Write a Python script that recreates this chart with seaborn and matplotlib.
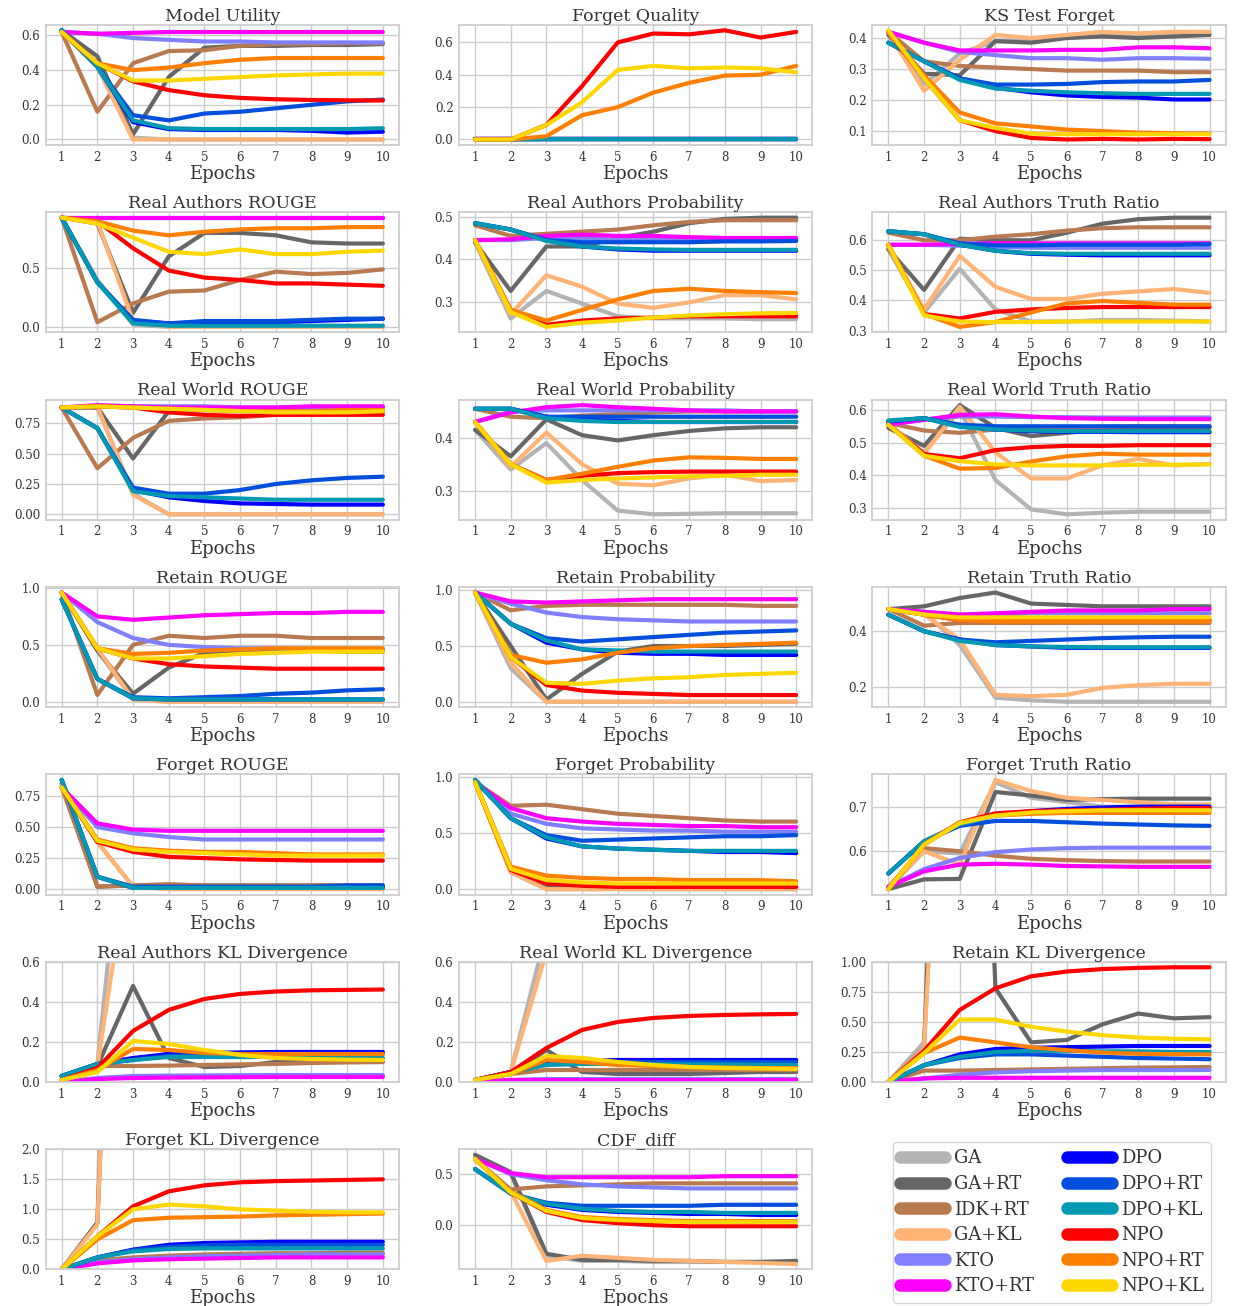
import numpy as np
import pandas as pd
import matplotlib
matplotlib.use("Agg")
import matplotlib.pyplot as plt
import seaborn as sns
from matplotlib.lines import Line2D

EPOCHS = [1, 2, 3, 4, 5, 6, 7, 8, 9, 10]
METHODS = ["GA", "GA+RT", "IDK+RT", "GA+KL", "KTO", "KTO+RT",
           "DPO", "DPO+RT", "DPO+KL", "NPO", "NPO+RT", "NPO+KL"]
COLORS = ["#b3b3b3", "#666666", "#b97a50", "#ffb375", "#8080ff", "#ff00ff",
          "#0000ff", "#004fdc", "#0099b3", "#ff0000", "#ff8000", "#ffd700"]

# each panel: 12 series (METHODS order) x 10 epochs
model_utility = [
    [0.62, 0.42, 0.01, 0, 0, 0, 0, 0, 0, 0],
    [0.63, 0.48, 0.03, 0.36, 0.53, 0.54, 0.54, 0.545, 0.545, 0.55],
    [0.62, 0.16, 0.44, 0.51, 0.515, 0.54, 0.55, 0.55, 0.555, 0.555],
    [0.62, 0.42, 0.0, 0, 0, 0, 0, 0, 0, 0],
    [0.62, 0.61, 0.585, 0.575, 0.565, 0.565, 0.56, 0.56, 0.56, 0.56],
    [0.62, 0.61, 0.615, 0.62, 0.62, 0.62, 0.62, 0.62, 0.62, 0.62],
    [0.63, 0.42, 0.10, 0.06, 0.055, 0.055, 0.055, 0.05, 0.04, 0.045],
    [0.63, 0.42, 0.14, 0.11, 0.15, 0.16, 0.18, 0.20, 0.22, 0.23],
    [0.63, 0.42, 0.11, 0.065, 0.06, 0.06, 0.06, 0.06, 0.06, 0.065],
    [0.62, 0.44, 0.335, 0.285, 0.255, 0.24, 0.232, 0.228, 0.226, 0.225],
    [0.62, 0.44, 0.40, 0.415, 0.44, 0.46, 0.47, 0.47, 0.47, 0.47],
    [0.62, 0.44, 0.34, 0.34, 0.35, 0.36, 0.37, 0.375, 0.38, 0.38],
]
forget_quality = [
    [0, 0, 0, 0, 0, 0, 0, 0, 0, 0],
    [0, 0, 0, 0, 0, 0, 0, 0, 0, 0],
    [0, 0, 0, 0, 0, 0, 0, 0, 0, 0],
    [0, 0, 0, 0, 0, 0, 0, 0, 0, 0],
    [0, 0, 0, 0, 0, 0, 0, 0, 0, 0],
    [0, 0, 0, 0, 0, 0, 0, 0, 0, 0],
    [0, 0, 0, 0, 0, 0, 0, 0, 0, 0],
    [0, 0, 0, 0, 0, 0, 0, 0, 0, 0],
    [0, 0, 0.002, 0.002, 0.002, 0.002, 0.002, 0.002, 0.002, 0.002],
    [0, 0, 0.09, 0.33, 0.60, 0.655, 0.65, 0.675, 0.63, 0.665],
    [0, 0, 0.02, 0.15, 0.20, 0.29, 0.35, 0.395, 0.40, 0.455],
    [0, 0, 0.09, 0.23, 0.43, 0.455, 0.44, 0.445, 0.44, 0.415],
]
ks_test_forget = [
    [0.41, 0.25, 0.35, 0.39, 0.39, 0.405, 0.41, 0.41, 0.41, 0.415],
    [0.41, 0.285, 0.28, 0.39, 0.385, 0.40, 0.405, 0.40, 0.405, 0.41],
    [0.42, 0.325, 0.31, 0.305, 0.30, 0.295, 0.295, 0.295, 0.29, 0.29],
    [0.42, 0.23, 0.33, 0.41, 0.40, 0.41, 0.42, 0.415, 0.42, 0.42],
    [0.42, 0.385, 0.355, 0.345, 0.335, 0.335, 0.33, 0.335, 0.335, 0.333],
    [0.42, 0.385, 0.36, 0.36, 0.36, 0.362, 0.362, 0.37, 0.37, 0.367],
    [0.385, 0.325, 0.27, 0.24, 0.225, 0.215, 0.21, 0.208, 0.202, 0.202],
    [0.385, 0.325, 0.27, 0.25, 0.25, 0.252, 0.258, 0.26, 0.26, 0.265],
    [0.385, 0.325, 0.265, 0.237, 0.23, 0.225, 0.222, 0.22, 0.22, 0.22],
    [0.42, 0.27, 0.135, 0.10, 0.078, 0.073, 0.075, 0.073, 0.075, 0.074],
    [0.42, 0.28, 0.16, 0.125, 0.115, 0.105, 0.10, 0.095, 0.093, 0.092],
    [0.425, 0.27, 0.135, 0.11, 0.092, 0.09, 0.09, 0.09, 0.09, 0.09],
]
real_authors_rouge = [
    [0.93, 0.40, 0.02, 0, 0, 0, 0, 0, 0, 0],
    [0.93, 0.88, 0.12, 0.60, 0.80, 0.80, 0.78, 0.72, 0.71, 0.71],
    [0.93, 0.04, 0.20, 0.30, 0.31, 0.40, 0.47, 0.45, 0.46, 0.49],
    [0.93, 0.90, 0.05, 0, 0, 0, 0, 0, 0, 0],
    [0.93, 0.93, 0.93, 0.93, 0.93, 0.93, 0.93, 0.93, 0.93, 0.93],
    [0.93, 0.93, 0.93, 0.93, 0.93, 0.93, 0.93, 0.93, 0.93, 0.93],
    [0.93, 0.38, 0.05, 0.03, 0.04, 0.04, 0.04, 0.05, 0.06, 0.07],
    [0.93, 0.38, 0.06, 0.03, 0.05, 0.05, 0.05, 0.06, 0.07, 0.07],
    [0.93, 0.38, 0.03, 0.01, 0.01, 0.01, 0.01, 0.01, 0.01, 0.01],
    [0.93, 0.90, 0.67, 0.48, 0.42, 0.40, 0.37, 0.37, 0.36, 0.35],
    [0.93, 0.90, 0.82, 0.78, 0.81, 0.83, 0.84, 0.84, 0.85, 0.85],
    [0.93, 0.88, 0.76, 0.64, 0.62, 0.66, 0.62, 0.62, 0.64, 0.65],
]
real_authors_prob = [
    [0.44, 0.26, 0.325, 0.295, 0.265, 0.26, 0.26, 0.26, 0.258, 0.258],
    [0.44, 0.325, 0.43, 0.43, 0.45, 0.465, 0.485, 0.495, 0.498, 0.498],
    [0.48, 0.455, 0.46, 0.465, 0.47, 0.48, 0.488, 0.492, 0.492, 0.492],
    [0.445, 0.27, 0.362, 0.335, 0.295, 0.285, 0.298, 0.315, 0.315, 0.305],
    [0.445, 0.445, 0.45, 0.45, 0.445, 0.445, 0.445, 0.445, 0.445, 0.445],
    [0.445, 0.447, 0.455, 0.458, 0.455, 0.455, 0.452, 0.45, 0.45, 0.45],
    [0.485, 0.47, 0.445, 0.43, 0.423, 0.42, 0.42, 0.42, 0.42, 0.42],
    [0.485, 0.47, 0.445, 0.44, 0.44, 0.44, 0.44, 0.442, 0.442, 0.443],
    [0.485, 0.47, 0.443, 0.43, 0.425, 0.423, 0.422, 0.422, 0.422, 0.422],
    [0.445, 0.28, 0.245, 0.255, 0.26, 0.262, 0.265, 0.265, 0.265, 0.265],
    [0.445, 0.28, 0.255, 0.28, 0.305, 0.325, 0.33, 0.325, 0.322, 0.32],
    [0.445, 0.275, 0.24, 0.25, 0.255, 0.262, 0.267, 0.27, 0.272, 0.273],
]
real_authors_tr = [
    [0.57, 0.36, 0.505, 0.37, 0.33, 0.33, 0.335, 0.335, 0.333, 0.33],
    [0.57, 0.435, 0.605, 0.60, 0.60, 0.625, 0.655, 0.67, 0.675, 0.675],
    [0.625, 0.60, 0.60, 0.612, 0.62, 0.632, 0.64, 0.643, 0.643, 0.643],
    [0.58, 0.37, 0.548, 0.445, 0.405, 0.405, 0.422, 0.43, 0.438, 0.425],
    [0.585, 0.585, 0.582, 0.578, 0.575, 0.575, 0.575, 0.575, 0.575, 0.575],
    [0.585, 0.585, 0.588, 0.59, 0.59, 0.59, 0.59, 0.59, 0.59, 0.59],
    [0.63, 0.62, 0.585, 0.565, 0.555, 0.552, 0.55, 0.55, 0.55, 0.55],
    [0.63, 0.62, 0.59, 0.583, 0.583, 0.585, 0.585, 0.585, 0.585, 0.587],
    [0.63, 0.62, 0.585, 0.565, 0.557, 0.555, 0.555, 0.555, 0.555, 0.555],
    [0.585, 0.355, 0.34, 0.362, 0.37, 0.375, 0.378, 0.378, 0.378, 0.378],
    [0.585, 0.355, 0.312, 0.328, 0.36, 0.39, 0.398, 0.392, 0.386, 0.386],
    [0.585, 0.35, 0.33, 0.328, 0.328, 0.33, 0.33, 0.33, 0.33, 0.33],
]
real_world_rouge = [
    [0.88, 0.88, 0.17, 0, 0, 0, 0, 0, 0, 0],
    [0.88, 0.88, 0.46, 0.85, 0.86, 0.86, 0.86, 0.86, 0.86, 0.86],
    [0.88, 0.38, 0.63, 0.77, 0.79, 0.80, 0.82, 0.82, 0.83, 0.84],
    [0.88, 0.89, 0.16, 0, 0, 0, 0, 0, 0, 0],
    [0.88, 0.89, 0.89, 0.89, 0.89, 0.88, 0.88, 0.88, 0.88, 0.88],
    [0.88, 0.90, 0.89, 0.88, 0.88, 0.88, 0.88, 0.89, 0.89, 0.89],
    [0.88, 0.71, 0.20, 0.14, 0.11, 0.09, 0.085, 0.08, 0.08, 0.08],
    [0.88, 0.71, 0.22, 0.17, 0.17, 0.20, 0.25, 0.28, 0.30, 0.31],
    [0.88, 0.71, 0.19, 0.15, 0.14, 0.13, 0.12, 0.12, 0.12, 0.12],
    [0.88, 0.89, 0.88, 0.84, 0.82, 0.81, 0.82, 0.82, 0.82, 0.82],
    [0.88, 0.89, 0.88, 0.87, 0.86, 0.85, 0.85, 0.85, 0.86, 0.86],
    [0.88, 0.89, 0.88, 0.87, 0.86, 0.85, 0.84, 0.84, 0.84, 0.85],
]
real_world_prob = [
    [0.415, 0.34, 0.39, 0.32, 0.262, 0.255, 0.256, 0.257, 0.257, 0.257],
    [0.415, 0.365, 0.435, 0.405, 0.395, 0.405, 0.413, 0.418, 0.42, 0.42],
    [0.455, 0.44, 0.437, 0.442, 0.445, 0.448, 0.45, 0.45, 0.45, 0.45],
    [0.43, 0.345, 0.41, 0.35, 0.313, 0.31, 0.323, 0.33, 0.318, 0.32],
    [0.43, 0.45, 0.452, 0.452, 0.452, 0.452, 0.452, 0.452, 0.45, 0.45],
    [0.43, 0.448, 0.458, 0.462, 0.458, 0.455, 0.452, 0.45, 0.45, 0.45],
    [0.455, 0.455, 0.44, 0.435, 0.432, 0.43, 0.43, 0.43, 0.43, 0.43],
    [0.455, 0.455, 0.44, 0.44, 0.44, 0.44, 0.44, 0.44, 0.44, 0.44],
    [0.455, 0.455, 0.437, 0.432, 0.43, 0.43, 0.43, 0.43, 0.43, 0.43],
    [0.43, 0.35, 0.32, 0.328, 0.333, 0.335, 0.336, 0.336, 0.336, 0.336],
    [0.43, 0.35, 0.32, 0.332, 0.345, 0.357, 0.363, 0.362, 0.36, 0.36],
    [0.43, 0.35, 0.315, 0.32, 0.323, 0.325, 0.327, 0.328, 0.33, 0.33],
]
real_world_tr = [
    [0.555, 0.47, 0.60, 0.385, 0.295, 0.28, 0.285, 0.288, 0.288, 0.288],
    [0.545, 0.49, 0.615, 0.545, 0.52, 0.53, 0.54, 0.545, 0.545, 0.545],
    [0.56, 0.537, 0.53, 0.54, 0.54, 0.545, 0.548, 0.55, 0.55, 0.55],
    [0.56, 0.465, 0.61, 0.47, 0.39, 0.39, 0.43, 0.45, 0.43, 0.435],
    [0.555, 0.57, 0.58, 0.58, 0.578, 0.578, 0.577, 0.577, 0.577, 0.577],
    [0.555, 0.57, 0.585, 0.587, 0.58, 0.575, 0.573, 0.572, 0.572, 0.572],
    [0.565, 0.575, 0.55, 0.54, 0.535, 0.533, 0.533, 0.532, 0.532, 0.532],
    [0.565, 0.575, 0.555, 0.55, 0.55, 0.55, 0.55, 0.55, 0.55, 0.55],
    [0.568, 0.575, 0.548, 0.54, 0.537, 0.535, 0.535, 0.535, 0.535, 0.535],
    [0.555, 0.465, 0.452, 0.477, 0.486, 0.49, 0.49, 0.492, 0.492, 0.492],
    [0.555, 0.46, 0.42, 0.422, 0.442, 0.458, 0.466, 0.463, 0.463, 0.463],
    [0.555, 0.46, 0.443, 0.433, 0.43, 0.43, 0.43, 0.432, 0.432, 0.433],
]
retain_rouge = [
    [0.96, 0.45, 0.02, 0, 0, 0, 0, 0, 0, 0],
    [0.96, 0.45, 0.07, 0.30, 0.43, 0.45, 0.46, 0.45, 0.44, 0.44],
    [0.96, 0.06, 0.50, 0.58, 0.56, 0.58, 0.58, 0.56, 0.56, 0.56],
    [0.96, 0.47, 0.02, 0, 0, 0, 0, 0, 0, 0],
    [0.96, 0.70, 0.56, 0.50, 0.48, 0.47, 0.47, 0.46, 0.46, 0.46],
    [0.96, 0.75, 0.72, 0.74, 0.76, 0.77, 0.78, 0.78, 0.79, 0.79],
    [0.90, 0.20, 0.03, 0.02, 0.02, 0.02, 0.02, 0.02, 0.02, 0.02],
    [0.90, 0.20, 0.04, 0.03, 0.04, 0.05, 0.07, 0.08, 0.10, 0.11],
    [0.90, 0.20, 0.03, 0.02, 0.02, 0.02, 0.02, 0.02, 0.02, 0.02],
    [0.96, 0.47, 0.38, 0.33, 0.31, 0.30, 0.29, 0.29, 0.29, 0.29],
    [0.96, 0.47, 0.42, 0.43, 0.45, 0.46, 0.47, 0.47, 0.47, 0.47],
    [0.96, 0.47, 0.38, 0.38, 0.40, 0.42, 0.43, 0.44, 0.44, 0.44],
]
retain_prob = [
    [0.98, 0.30, 0.0, 0, 0, 0, 0, 0, 0, 0],
    [0.98, 0.50, 0.02, 0.25, 0.45, 0.50, 0.50, 0.50, 0.51, 0.52],
    [0.98, 0.82, 0.86, 0.87, 0.87, 0.87, 0.87, 0.87, 0.86, 0.86],
    [0.98, 0.35, 0.0, 0, 0, 0, 0, 0, 0, 0],
    [0.98, 0.88, 0.80, 0.76, 0.74, 0.73, 0.72, 0.72, 0.72, 0.72],
    [0.98, 0.90, 0.89, 0.90, 0.91, 0.92, 0.92, 0.92, 0.92, 0.92],
    [0.98, 0.70, 0.53, 0.47, 0.44, 0.43, 0.43, 0.42, 0.42, 0.42],
    [0.98, 0.70, 0.57, 0.54, 0.56, 0.58, 0.60, 0.62, 0.63, 0.64],
    [0.98, 0.70, 0.55, 0.47, 0.46, 0.45, 0.45, 0.45, 0.45, 0.45],
    [0.98, 0.40, 0.15, 0.10, 0.08, 0.07, 0.06, 0.06, 0.06, 0.06],
    [0.98, 0.42, 0.35, 0.38, 0.44, 0.48, 0.50, 0.51, 0.52, 0.53],
    [0.98, 0.40, 0.17, 0.16, 0.19, 0.21, 0.22, 0.24, 0.25, 0.26],
]
retain_tr = [
    [0.48, 0.47, 0.35, 0.16, 0.15, 0.145, 0.145, 0.145, 0.145, 0.145],
    [0.48, 0.49, 0.52, 0.54, 0.50, 0.495, 0.49, 0.49, 0.49, 0.49],
    [0.48, 0.42, 0.43, 0.43, 0.43, 0.43, 0.43, 0.43, 0.43, 0.43],
    [0.48, 0.46, 0.37, 0.17, 0.165, 0.17, 0.195, 0.205, 0.21, 0.21],
    [0.48, 0.47, 0.46, 0.46, 0.465, 0.465, 0.465, 0.465, 0.465, 0.465],
    [0.48, 0.47, 0.46, 0.465, 0.47, 0.475, 0.475, 0.475, 0.48, 0.48],
    [0.46, 0.40, 0.37, 0.35, 0.345, 0.34, 0.34, 0.34, 0.34, 0.34],
    [0.46, 0.40, 0.37, 0.36, 0.365, 0.37, 0.375, 0.378, 0.38, 0.38],
    [0.46, 0.40, 0.365, 0.35, 0.345, 0.343, 0.342, 0.342, 0.342, 0.342],
    [0.48, 0.46, 0.44, 0.44, 0.44, 0.44, 0.44, 0.44, 0.44, 0.44],
    [0.48, 0.46, 0.44, 0.435, 0.435, 0.435, 0.435, 0.435, 0.435, 0.435],
    [0.48, 0.46, 0.45, 0.45, 0.45, 0.45, 0.45, 0.45, 0.45, 0.45],
]
forget_rouge = [
    [0.85, 0.38, 0.02, 0, 0, 0, 0, 0, 0, 0],
    [0.85, 0.02, 0.03, 0.03, 0.03, 0.03, 0.03, 0.03, 0.03, 0.03],
    [0.82, 0.02, 0.03, 0.04, 0.03, 0.03, 0.03, 0.03, 0.03, 0.03],
    [0.85, 0.38, 0.02, 0, 0, 0, 0, 0, 0, 0],
    [0.82, 0.50, 0.45, 0.42, 0.40, 0.40, 0.40, 0.40, 0.40, 0.40],
    [0.82, 0.53, 0.48, 0.47, 0.47, 0.47, 0.47, 0.47, 0.47, 0.47],
    [0.88, 0.10, 0.01, 0.01, 0.01, 0.01, 0.01, 0.01, 0.01, 0.01],
    [0.88, 0.10, 0.02, 0.02, 0.02, 0.02, 0.02, 0.02, 0.03, 0.03],
    [0.88, 0.10, 0.01, 0.01, 0.01, 0.01, 0.01, 0.01, 0.01, 0.01],
    [0.82, 0.38, 0.30, 0.26, 0.25, 0.24, 0.235, 0.23, 0.23, 0.23],
    [0.82, 0.40, 0.33, 0.31, 0.30, 0.30, 0.29, 0.28, 0.28, 0.28],
    [0.82, 0.39, 0.32, 0.30, 0.29, 0.28, 0.27, 0.27, 0.27, 0.27],
]
forget_prob = [
    [0.95, 0.15, 0.0, 0, 0, 0, 0, 0, 0, 0],
    [0.95, 0.18, 0.02, 0.01, 0.01, 0.01, 0.01, 0.01, 0.01, 0.01],
    [0.95, 0.74, 0.75, 0.71, 0.67, 0.65, 0.63, 0.61, 0.60, 0.60],
    [0.95, 0.15, 0.0, 0, 0, 0, 0, 0, 0, 0],
    [0.95, 0.67, 0.58, 0.54, 0.53, 0.52, 0.52, 0.51, 0.51, 0.51],
    [0.95, 0.72, 0.63, 0.60, 0.58, 0.57, 0.56, 0.56, 0.55, 0.55],
    [0.97, 0.63, 0.45, 0.38, 0.36, 0.35, 0.34, 0.33, 0.33, 0.32],
    [0.97, 0.63, 0.48, 0.43, 0.44, 0.45, 0.46, 0.47, 0.47, 0.48],
    [0.97, 0.63, 0.46, 0.38, 0.36, 0.35, 0.34, 0.34, 0.34, 0.34],
    [0.95, 0.17, 0.05, 0.03, 0.02, 0.02, 0.02, 0.02, 0.02, 0.02],
    [0.95, 0.20, 0.12, 0.10, 0.09, 0.09, 0.08, 0.08, 0.08, 0.07],
    [0.95, 0.18, 0.08, 0.06, 0.05, 0.05, 0.05, 0.05, 0.05, 0.05],
]
forget_tr = [
    [0.515, 0.60, 0.595, 0.755, 0.72, 0.71, 0.70, 0.70, 0.70, 0.70],
    [0.515, 0.537, 0.538, 0.733, 0.725, 0.715, 0.717, 0.718, 0.718, 0.718],
    [0.52, 0.607, 0.60, 0.59, 0.583, 0.58, 0.578, 0.577, 0.577, 0.577],
    [0.52, 0.60, 0.57, 0.76, 0.735, 0.72, 0.715, 0.71, 0.705, 0.705],
    [0.52, 0.56, 0.585, 0.598, 0.604, 0.607, 0.608, 0.608, 0.608, 0.608],
    [0.52, 0.555, 0.57, 0.572, 0.57, 0.567, 0.566, 0.565, 0.565, 0.565],
    [0.55, 0.622, 0.66, 0.682, 0.69, 0.695, 0.698, 0.70, 0.70, 0.70],
    [0.55, 0.622, 0.657, 0.668, 0.668, 0.665, 0.662, 0.66, 0.658, 0.657],
    [0.55, 0.622, 0.66, 0.68, 0.686, 0.69, 0.692, 0.693, 0.693, 0.693],
    [0.515, 0.615, 0.665, 0.685, 0.69, 0.692, 0.693, 0.695, 0.697, 0.697],
    [0.515, 0.615, 0.665, 0.68, 0.684, 0.686, 0.686, 0.686, 0.686, 0.686],
    [0.515, 0.615, 0.663, 0.68, 0.687, 0.69, 0.692, 0.692, 0.692, 0.692],
]
real_authors_kl = [
    [0.03, 0.09, 1.8, 2.5, 2.8, 3.0, 3.1, 3.2, 3.2, 3.3],
    [0.03, 0.08, 0.48, 0.12, 0.075, 0.08, 0.10, 0.10, 0.10, 0.10],
    [0.01, 0.08, 0.08, 0.082, 0.085, 0.088, 0.09, 0.095, 0.098, 0.10],
    [0.01, 0.08, 1.25, 1.9, 2.2, 2.4, 2.5, 2.6, 2.6, 2.7],
    [0.0, 0.02, 0.03, 0.032, 0.033, 0.034, 0.035, 0.035, 0.035, 0.035],
    [0.0, 0.015, 0.02, 0.022, 0.023, 0.024, 0.025, 0.025, 0.025, 0.025],
    [0.03, 0.09, 0.12, 0.14, 0.145, 0.148, 0.15, 0.15, 0.15, 0.15],
    [0.03, 0.09, 0.11, 0.13, 0.135, 0.137, 0.138, 0.14, 0.14, 0.14],
    [0.03, 0.09, 0.11, 0.125, 0.125, 0.125, 0.125, 0.123, 0.122, 0.12],
    [0.01, 0.07, 0.255, 0.36, 0.415, 0.44, 0.452, 0.458, 0.46, 0.462],
    [0.01, 0.06, 0.165, 0.16, 0.145, 0.14, 0.14, 0.14, 0.14, 0.14],
    [0.01, 0.05, 0.205, 0.19, 0.16, 0.135, 0.12, 0.115, 0.112, 0.11],
]
real_world_kl = [
    [0.01, 0.05, 0.75, 1.5, 2.0, 2.2, 2.3, 2.4, 2.4, 2.5],
    [0.01, 0.04, 0.16, 0.05, 0.04, 0.04, 0.04, 0.045, 0.05, 0.05],
    [0.01, 0.04, 0.06, 0.06, 0.06, 0.06, 0.06, 0.06, 0.06, 0.06],
    [0.01, 0.05, 0.65, 1.3, 1.7, 1.9, 2.0, 2.1, 2.1, 2.2],
    [0.0, 0.01, 0.015, 0.015, 0.015, 0.015, 0.015, 0.015, 0.015, 0.015],
    [0.0, 0.01, 0.01, 0.01, 0.01, 0.01, 0.01, 0.01, 0.01, 0.01],
    [0.01, 0.05, 0.09, 0.105, 0.11, 0.11, 0.11, 0.11, 0.11, 0.11],
    [0.01, 0.05, 0.09, 0.10, 0.10, 0.10, 0.10, 0.10, 0.10, 0.10],
    [0.01, 0.05, 0.085, 0.09, 0.09, 0.09, 0.088, 0.087, 0.086, 0.085],
    [0.01, 0.05, 0.17, 0.26, 0.30, 0.32, 0.33, 0.335, 0.338, 0.34],
    [0.01, 0.04, 0.11, 0.10, 0.085, 0.08, 0.075, 0.072, 0.07, 0.07],
    [0.01, 0.04, 0.13, 0.12, 0.10, 0.085, 0.075, 0.07, 0.068, 0.065],
]
retain_kl = [
    [0.0, 0.33, 6.0, 8.0, 9.0, 9.5, 10.0, 10.0, 10.0, 10.0],
    [0.0, 0.28, 8.0, 0.78, 0.33, 0.35, 0.48, 0.57, 0.53, 0.54],
    [0.0, 0.095, 0.095, 0.10, 0.105, 0.11, 0.115, 0.12, 0.122, 0.125],
    [0.0, 0.28, 6.0, 7.0, 8.0, 8.5, 9.0, 9.0, 9.0, 9.0],
    [0.0, 0.03, 0.06, 0.08, 0.09, 0.095, 0.10, 0.10, 0.10, 0.10],
    [0.0, 0.03, 0.035, 0.035, 0.035, 0.035, 0.035, 0.035, 0.035, 0.035],
    [0.0, 0.14, 0.23, 0.275, 0.285, 0.29, 0.295, 0.30, 0.30, 0.30],
    [0.0, 0.14, 0.20, 0.23, 0.23, 0.22, 0.21, 0.20, 0.195, 0.19],
    [0.0, 0.14, 0.21, 0.25, 0.26, 0.26, 0.255, 0.255, 0.25, 0.25],
    [0.0, 0.26, 0.60, 0.78, 0.88, 0.92, 0.94, 0.95, 0.955, 0.955],
    [0.0, 0.24, 0.37, 0.33, 0.29, 0.265, 0.245, 0.235, 0.232, 0.23],
    [0.0, 0.24, 0.52, 0.52, 0.46, 0.42, 0.39, 0.37, 0.36, 0.355],
]
forget_kl = [
    [0.0, 0.78, 20.0, 25.0, 28.0, 30.0, 30.0, 30.0, 30.0, 30.0],
    [0.0, 0.78, 15.0, 20.0, 22.0, 24.0, 25.0, 25.0, 25.0, 25.0],
    [0.0, 0.15, 0.20, 0.23, 0.25, 0.26, 0.27, 0.27, 0.28, 0.28],
    [0.0, 0.75, 15.0, 20.0, 22.0, 24.0, 25.0, 25.0, 25.0, 25.0],
    [0.0, 0.12, 0.17, 0.20, 0.22, 0.23, 0.24, 0.25, 0.25, 0.25],
    [0.0, 0.10, 0.15, 0.17, 0.18, 0.19, 0.20, 0.20, 0.20, 0.20],
    [0.0, 0.20, 0.33, 0.41, 0.44, 0.45, 0.46, 0.46, 0.46, 0.46],
    [0.0, 0.20, 0.32, 0.38, 0.40, 0.41, 0.41, 0.41, 0.41, 0.41],
    [0.0, 0.20, 0.30, 0.34, 0.35, 0.35, 0.35, 0.35, 0.35, 0.35],
    [0.0, 0.55, 1.05, 1.30, 1.40, 1.45, 1.47, 1.48, 1.49, 1.50],
    [0.0, 0.50, 0.82, 0.86, 0.87, 0.88, 0.90, 0.91, 0.92, 0.93],
    [0.0, 0.55, 1.00, 1.08, 1.05, 1.00, 0.98, 0.96, 0.95, 0.95],
]
cdf_diff = [
    [0.68, 0.50, -0.30, -0.35, -0.35, -0.36, -0.36, -0.36, -0.36, -0.36],
    [0.69, 0.52, -0.28, -0.34, -0.34, -0.35, -0.35, -0.36, -0.36, -0.35],
    [0.65, 0.35, 0.38, 0.39, 0.40, 0.41, 0.41, 0.41, 0.41, 0.41],
    [0.65, 0.33, -0.35, -0.30, -0.32, -0.34, -0.35, -0.36, -0.37, -0.38],
    [0.65, 0.50, 0.44, 0.40, 0.38, 0.37, 0.36, 0.36, 0.36, 0.36],
    [0.65, 0.51, 0.47, 0.47, 0.47, 0.47, 0.47, 0.48, 0.48, 0.48],
    [0.55, 0.31, 0.20, 0.15, 0.13, 0.12, 0.11, 0.11, 0.10, 0.10],
    [0.55, 0.31, 0.22, 0.19, 0.19, 0.19, 0.19, 0.20, 0.20, 0.20],
    [0.55, 0.31, 0.21, 0.16, 0.14, 0.13, 0.13, 0.12, 0.12, 0.12],
    [0.65, 0.32, 0.13, 0.05, 0.02, 0.00, -0.01, -0.01, -0.01, -0.01],
    [0.65, 0.33, 0.15, 0.08, 0.06, 0.05, 0.04, 0.04, 0.04, 0.04],
    [0.65, 0.32, 0.14, 0.07, 0.05, 0.04, 0.03, 0.03, 0.03, 0.03],
]

TITLES = ["Model Utility", "Forget Quality", "KS Test Forget",
          "Real Authors ROUGE", "Real Authors Probability", "Real Authors Truth Ratio",
          "Real World ROUGE", "Real World Probability", "Real World Truth Ratio",
          "Retain ROUGE", "Retain Probability", "Retain Truth Ratio",
          "Forget ROUGE", "Forget Probability", "Forget Truth Ratio",
          "Real Authors KL Divergence", "Real World KL Divergence", "Retain KL Divergence",
          "Forget KL Divergence", "CDF_diff"]
PANELS = [model_utility, forget_quality, ks_test_forget,
          real_authors_rouge, real_authors_prob, real_authors_tr,
          real_world_rouge, real_world_prob, real_world_tr,
          retain_rouge, retain_prob, retain_tr,
          forget_rouge, forget_prob, forget_tr,
          real_authors_kl, real_world_kl, retain_kl,
          forget_kl, cdf_diff]
YTICKS = [[0, 0.2, 0.4, 0.6], [0, 0.2, 0.4, 0.6], [0.1, 0.2, 0.3, 0.4],
          [0, 0.5], [0.3, 0.4, 0.5], [0.3, 0.4, 0.5, 0.6],
          [0, 0.25, 0.5, 0.75], [0.3, 0.4], [0.3, 0.4, 0.5, 0.6],
          [0, 0.5, 1.0], [0, 0.5, 1.0], [0.2, 0.4],
          [0, 0.25, 0.5, 0.75], [0, 0.5, 1.0], [0.6, 0.7],
          [0, 0.2, 0.4, 0.6], [0, 0.2, 0.4, 0.6], [0, 0.25, 0.5, 0.75, 1.0],
          [0, 0.5, 1.0, 1.5, 2.0], [0, 0.5]]
YLIMS = {"Real Authors KL Divergence": (0, 0.6),
         "Real World KL Divergence": (0, 0.6),
         "Retain KL Divergence": (0, 1.0),
         "Forget KL Divergence": (0, 2.0)}

sns.set_theme(style="whitegrid")
plt.rcParams["font.family"] = ["DejaVu Serif"]
plt.rcParams["text.color"] = "#333333"
plt.rcParams["axes.labelcolor"] = "#333333"
plt.rcParams["xtick.color"] = "#333333"
plt.rcParams["ytick.color"] = "#333333"

fig, axes = plt.subplots(7, 3, figsize=(12.33, 13.06), dpi=100)
fig.subplots_adjust(left=0.037, right=0.994, top=0.981, bottom=0.028,
                    hspace=0.56, wspace=0.17)
palette = dict(zip(METHODS, COLORS))

for i, (title, panel) in enumerate(zip(TITLES, PANELS)):
    ax = axes.flat[i]
    rows = []
    for m, vals in zip(METHODS, panel):
        for e, v in zip(EPOCHS, vals):
            rows.append({"Epoch": e, "value": v, "Method": m})
    df = pd.DataFrame(rows)
    sns.lineplot(data=df, x="Epoch", y="value", hue="Method", hue_order=METHODS,
                 palette=palette, linewidth=3.0, legend=False, ax=ax,
                 errorbar=None)
    ax.set_title(title, fontsize=12.5, pad=3)
    ax.set_xlabel("Epochs", fontsize=13, labelpad=1)
    ax.set_ylabel("")
    ax.set_xticks(EPOCHS)
    if title in YLIMS:
        ax.set_ylim(*YLIMS[title])
    ax.set_yticks(YTICKS[i])
    ax.tick_params(axis="both", labelsize=8.5, length=0, pad=4)

axes.flat[20].axis("off")
handles = [Line2D([0], [0], color=c, lw=9, solid_capstyle="round") for c in COLORS]
leg = fig.legend(handles, METHODS,
                 ncol=2, loc="center", bbox_to_anchor=(0.853, 0.064),
                 fontsize=13, handlelength=2.5, labelspacing=0.42,
                 columnspacing=1.8, handletextpad=0.5, frameon=True,
                 borderpad=0.4)
leg.get_frame().set_edgecolor("#cccccc")

fig.savefig("out.png", dpi=100)
